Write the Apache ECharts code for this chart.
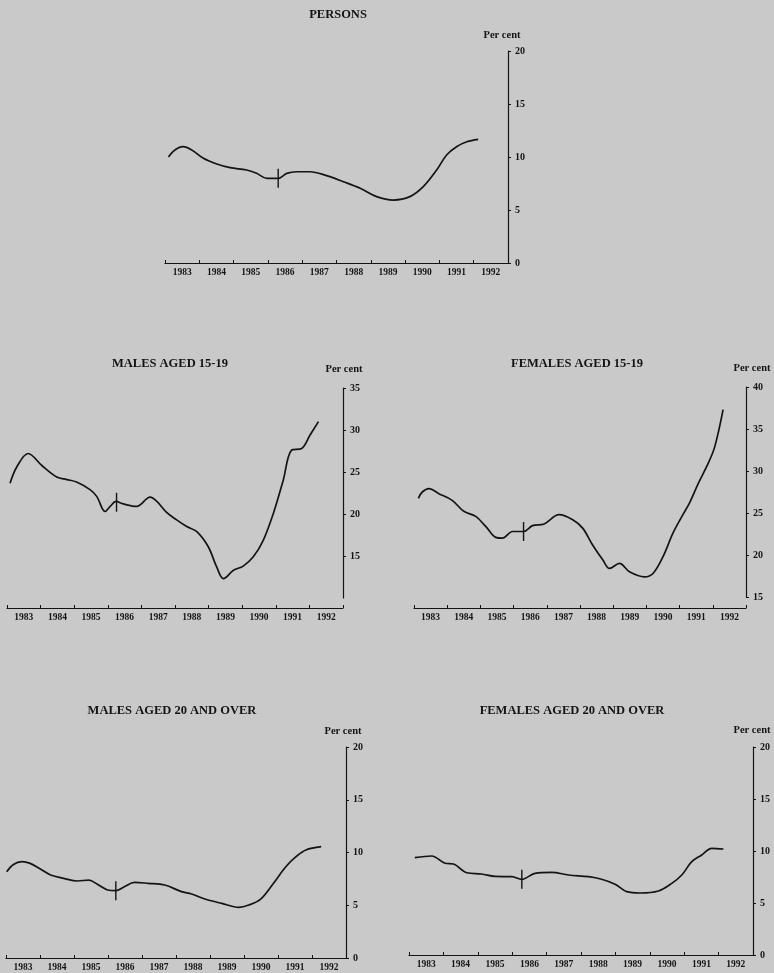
<!DOCTYPE html>
<html>
<head>
<meta charset="utf-8">
<script src="https://cdn.jsdelivr.net/npm/echarts@6/dist/echarts.min.js"></script>
<style>
html,body{margin:0;padding:0;background:#c9c9c9;}
#c{width:774px;height:973px;}
</style>
</head>
<body>
<div id="c"></div>
<script>
// ---- DATA ----
const yearLabels = ['1983','1984','1985','1986','1987','1988','1989','1990','1991','1992'];

const titles = ['PERSONS','MALES AGED 15-19','FEMALES AGED 15-19','MALES AGED 20 AND OVER','FEMALES AGED 20 AND OVER'];

const personsData = [
 [1983.10,10.0],[1983.29,10.66],[1983.53,10.97],[1983.78,10.66],[1984.12,9.88],[1984.51,9.34],
 [1984.90,8.99],[1985.38,8.77],[1985.67,8.46],[1985.97,7.99],[1986.30,7.99],[1986.55,8.46],
 [1986.84,8.61],[1987.23,8.61],[1987.71,8.24],[1988.20,7.67],[1988.69,7.05],[1989.17,6.26],
 [1989.66,5.94],[1990.14,6.26],[1990.53,7.20],[1990.92,8.77],[1991.21,10.19],[1991.50,10.97],
 [1991.80,11.44],[1992.13,11.67]
];
const males1519Data = [
 [1983.09,23.65],[1983.29,25.6],[1983.63,27.2],[1984.03,25.8],[1984.48,24.4],[1984.78,24.1],
 [1985.07,23.8],[1985.47,22.9],[1985.67,22.1],[1985.92,20.3],[1986.07,20.9],[1986.24,21.5],
 [1986.46,21.2],[1986.86,20.9],[1987.26,22.0],[1987.46,21.5],[1987.75,20.2],[1988.05,19.3],
 [1988.35,18.5],[1988.65,17.9],[1988.99,16.1],[1989.24,13.7],[1989.44,12.3],[1989.74,13.3],
 [1990.03,13.8],[1990.33,14.9],[1990.63,16.9],[1990.93,20.1],[1991.22,24.0],[1991.47,27.6],
 [1991.77,27.8],[1992.02,29.4],[1992.27,31.0]
];
const females1519Data = [
 [1983.13,26.75],[1983.25,27.5],[1983.45,27.9],[1983.75,27.3],[1984.15,26.5],[1984.50,25.2],
 [1984.86,24.6],[1985.16,23.4],[1985.46,22.1],[1985.66,22.0],[1985.97,22.8],[1986.30,22.8],
 [1986.57,23.5],[1986.92,23.7],[1987.37,24.8],[1987.78,24.2],[1988.08,23.2],[1988.38,21.2],
 [1988.69,19.4],[1988.89,18.4],[1989.19,19.0],[1989.49,18.0],[1989.94,17.4],[1990.20,17.8],
 [1990.50,19.8],[1990.80,22.6],[1991.10,24.8],[1991.30,26.2],[1991.56,28.5],[1991.86,30.9],
 [1992.06,32.9],[1992.31,37.3]
];
const males20Data = [
 [1983.02,8.18],[1983.22,8.87],[1983.47,9.13],[1983.71,8.97],[1984.01,8.44],[1984.31,7.87],
 [1984.70,7.55],[1985.10,7.30],[1985.44,7.39],[1985.69,6.98],[1985.99,6.45],[1986.23,6.38],
 [1986.48,6.76],[1986.78,7.17],[1987.18,7.08],[1987.67,6.92],[1988.16,6.29],[1988.46,6.07],
 [1988.85,5.59],[1989.35,5.18],[1989.85,4.80],[1990.14,5.02],[1990.49,5.59],[1990.83,6.92],
 [1991.23,8.65],[1991.53,9.60],[1991.82,10.24],[1992.27,10.55]
];
const females20Data = [
 [1983.17,9.36],[1983.66,9.52],[1984.05,8.82],[1984.29,8.75],[1984.68,7.91],[1985.11,7.79],
 [1985.50,7.56],[1985.99,7.53],[1986.28,7.28],[1986.66,7.85],[1987.15,7.95],[1987.64,7.69],
 [1988.22,7.53],[1988.60,7.28],[1988.99,6.80],[1989.33,6.09],[1989.72,5.96],[1990.25,6.15],
 [1990.64,6.89],[1990.93,7.69],[1991.22,8.97],[1991.51,9.62],[1991.80,10.26],[1992.14,10.19]
];
// series-break marks [year, value]
const breakMarks = [[1986.30,7.99],[1986.26,21.4],[1986.30,22.8],[1986.23,6.38],[1986.28,7.28]];
// y-axis ranges [min, max]
const yRanges = [[0,20],[10,35],[15,40],[0,20],[0,20]];

// ---- LAYOUT ----
const panels = [
 {data: personsData, left:165, width:343, top:51, height:212, offset:0, showMin:true,
  title:[338,15], pc:[502,35]},
 {data: males1519Data, left:7, width:336, top:388, height:210, offset:10, showMin:false,
  title:[170,364], pc:[344,369]},
 {data: females1519Data, left:414, width:332, top:387, height:210, offset:11, showMin:true,
  title:[577,364], pc:[752,368]},
 {data: males20Data, left:6, width:340, top:747, height:211, offset:0, showMin:true,
  title:[172,711], pc:[343,731]},
 {data: females20Data, left:409, width:344, top:747, height:208, offset:0, showMin:true,
  title:[572,711], pc:[752,730]}
];

const FONT = '"Liberation Serif", "DejaVu Serif", serif';
const INK = '#141414';

const grid = [], xAxis = [], yAxis = [], series = [], graphic = [];
panels.forEach((p, i) => {
  grid.push({left:p.left, top:p.top, width:p.width, height:p.height, containLabel:false});
  // labelled category axis (year bands)
  xAxis.push({
    type:'category', gridIndex:i, data:yearLabels, boundaryGap:true, offset:p.offset,
    axisLine:{show:true, onZero:false, lineStyle:{color:INK, width:1.2}},
    axisTick:{show:true, inside:true, length:3, lineStyle:{color:INK}},
    axisLabel:{color:INK, fontFamily:FONT, fontWeight:'bold', fontSize:9.5, margin:5, interval:0},
    splitLine:{show:false}
  });
  // hidden value axis used for plotting
  xAxis.push({
    type:'value', gridIndex:i, min:1983, max:1993, show:false
  });
  yAxis.push({
    type:'value', gridIndex:i, position:'right', min:yRanges[i][0], max:yRanges[i][1], interval:5,
    axisLine:{show:true, lineStyle:{color:INK, width:1.2}},
    axisTick:{show:true, length:3, lineStyle:{color:INK}},
    axisLabel:{color:INK, fontFamily:FONT, fontWeight:'bold', fontSize:10, margin:7, showMinLabel:p.showMin},
    splitLine:{show:false}
  });
  series.push({
    type:'line', xAxisIndex:i*2+1, yAxisIndex:i, data:p.data, smooth:0.35,
    showSymbol:false, symbol:'none',
    lineStyle:{color:INK, width:1.7},
    markPoint:{
      symbol:'rect', symbolSize:[1.4,19], silent:true,
      itemStyle:{color:INK}, label:{show:false},
      data:[{coord:breakMarks[i]}]
    }
  });
  graphic.push({type:'text', x:p.title[0], y:p.title[1],
    style:{text:titles[i], textAlign:'center', textVerticalAlign:'middle',
      font:'bold 12.5px ' + FONT, fill:INK}});
  graphic.push({type:'text', x:p.pc[0], y:p.pc[1],
    style:{text:'Per cent', textAlign:'center', textVerticalAlign:'middle',
      font:'bold 10.5px ' + FONT, fill:INK}});
});

const chart = echarts.init(document.getElementById('c'));
chart.setOption({
  backgroundColor:'#c9c9c9',
  animation:false,
  grid, xAxis, yAxis, series, graphic
});
</script>
</body>
</html>
